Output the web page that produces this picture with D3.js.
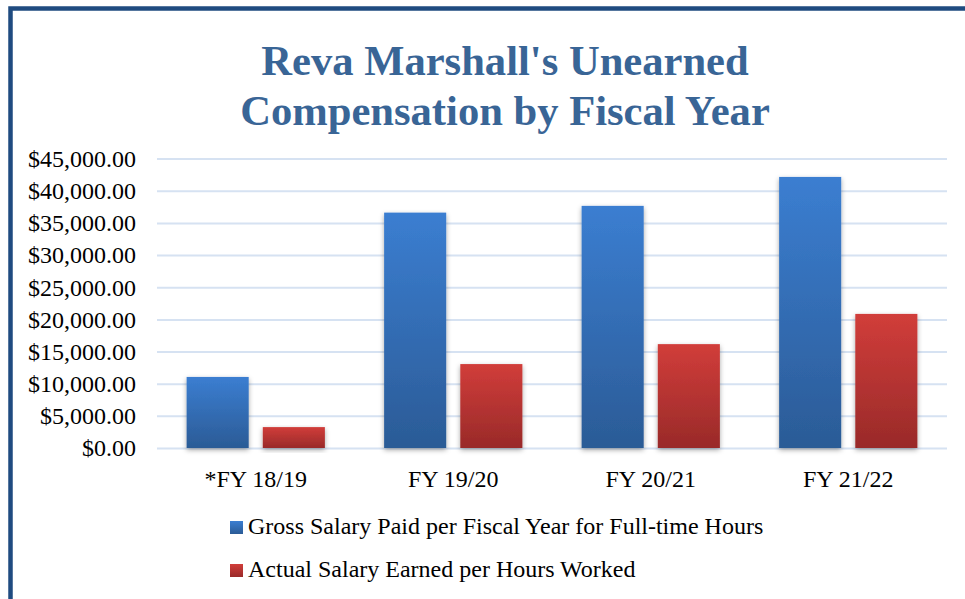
<!DOCTYPE html>
<html>
<head>
<meta charset="utf-8">
<script src="https://cdn.jsdelivr.net/npm/d3@7"></script>
<style>
  html, body { margin: 0; padding: 0; background: #ffffff; }
  svg { display: block; }
</style>
</head>
<body>
<svg id="chart" width="965" height="599"></svg>
<script>
const titleLines = ["Reva Marshall's Unearned", "Compensation by Fiscal Year"];
const categories = ["*FY 18/19", "FY 19/20", "FY 20/21", "FY 21/22"];
const seriesNames = ["Gross Salary Paid per Fiscal Year for Full-time Hours", "Actual Salary Earned per Hours Worked"];
const grossValues = [11050, 36600, 37650, 42150];
const actualValues = [3250, 13050, 16150, 20850];
const yTicks = [0, 5000, 10000, 15000, 20000, 25000, 30000, 35000, 40000, 45000];

const seriesValues = [grossValues, actualValues];
const colorsTop = ["#3B7ED1", "#D13D3A"];
const colorsBottom = ["#2B5B96", "#992A29"];

const svg = d3.select("#chart");
const W = 965, H = 599;
const plot = { left: 157, right: 947, top: 158.6, bottom: 448 };
const serif = "'Liberation Serif', 'Times New Roman', serif";

const defs = svg.append("defs");
seriesNames.forEach((s, i) => {
  const g = defs.append("linearGradient").attr("id", "grad" + i)
    .attr("x1", 0).attr("y1", 0).attr("x2", 0).attr("y2", 1);
  g.append("stop").attr("offset", "0%").attr("stop-color", colorsTop[i]);
  g.append("stop").attr("offset", "100%").attr("stop-color", colorsBottom[i]);
});
const f = defs.append("filter").attr("id", "shadow")
  .attr("x", "-20%").attr("y", "-10%").attr("width", "140%").attr("height", "130%");
f.append("feDropShadow").attr("dx", 0).attr("dy", 2).attr("stdDeviation", 2.5)
  .attr("flood-color", "#000").attr("flood-opacity", 0.35);

// background + border
svg.append("rect").attr("width", W).attr("height", H).attr("fill", "#fff");
svg.append("rect").attr("x", 10.5).attr("y", 8.5).attr("width", W + 20).attr("height", H + 20)
  .attr("fill", "none").attr("stroke", "#1F4B80").attr("stroke-width", 4.5);

// title
svg.append("text")
  .attr("x", 505).attr("text-anchor", "middle")
  .attr("font-family", serif).attr("font-weight", "bold").attr("font-size", 42.6)
  .attr("fill", "#396596")
  .selectAll("tspan").data(titleLines).join("tspan")
  .attr("x", 505).attr("y", (d, i) => 75 + i * 50).text(d => d);

// scales
const y = d3.scaleLinear().domain([0, 45000]).range([plot.bottom, plot.top]);
const x0 = d3.scaleBand().domain(categories).range([plot.left, plot.right])
  .paddingInner(0.3).paddingOuter(0.15);
const x1 = d3.scaleBand().domain(d3.range(seriesNames.length)).range([0, x0.bandwidth()])
  .paddingInner(0.185).paddingOuter(0);

// gridlines
const yAxis = d3.axisLeft(y).tickValues(yTicks)
  .tickSize(-(plot.right - plot.left)).tickPadding(21)
  .tickFormat(d => "$" + d3.format(",.2f")(d));
const gy = svg.append("g").attr("transform", `translate(${plot.left},0)`).call(yAxis);
gy.select(".domain").remove();
gy.selectAll(".tick line").attr("stroke", "#D6E2F2").attr("stroke-width", 2);
gy.selectAll(".tick text").attr("font-family", serif).attr("font-size", 24)
  .attr("fill", "#000").attr("dy", "0.33em");

// bars
const groups = svg.append("g").selectAll("g").data(categories).join("g")
  .attr("transform", d => `translate(${x0(d)},0)`);
groups.selectAll("rect")
  .data((d, ci) => seriesValues.map((vals, si) => ({ si, v: vals[ci] })))
  .join("rect")
  .attr("x", d => x1(d.si))
  .attr("width", x1.bandwidth())
  .attr("y", d => y(d.v))
  .attr("height", d => y(0) - y(d.v))
  .attr("fill", d => `url(#grad${d.si})`)
  .attr("filter", "url(#shadow)");

// x axis
const xAxis = d3.axisBottom(x0).tickSize(0).tickPadding(22);
const gx = svg.append("g").attr("transform", `translate(0,${plot.bottom})`).call(xAxis);
gx.select(".domain").remove();
gx.selectAll(".tick text").attr("font-family", serif).attr("font-size", 24).attr("fill", "#000")
  .attr("dy", "0.71em");

// legend
const leg = svg.append("g").selectAll("g").data(seriesNames).join("g")
  .attr("transform", (d, i) => `translate(230,${521 + i * 43})`);
leg.append("rect").attr("width", 13).attr("height", 13)
  .attr("fill", (d, i) => `url(#grad${i})`);
leg.append("text").attr("x", 18).attr("y", 13)
  .attr("font-family", serif).attr("font-size", 24).attr("fill", "#000")
  .text(d => d);
</script>
</body>
</html>
